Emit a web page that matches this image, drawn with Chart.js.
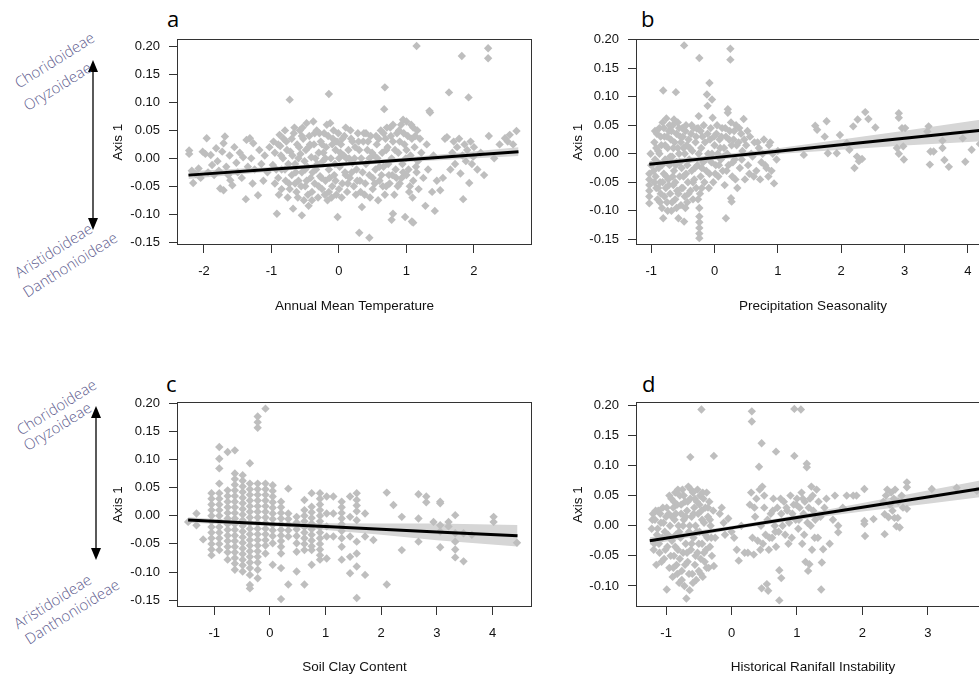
<!DOCTYPE html>
<html>
<head>
<meta charset="utf-8">
<script src="https://cdn.jsdelivr.net/npm/chart.js@4.4.1/dist/chart.umd.min.js"></script>
<style>
  html, body { margin: 0; padding: 0; background: #fff; overflow: hidden; }
  #page { position: relative; width: 979px; height: 679px; overflow: hidden; }
  canvas { position: absolute; }
  svg { position: absolute; left: 0; top: 0; }
  .letter { position: absolute; font: 22px "Open Sans", sans-serif; line-height: 22px; color: #000; }
  .note { position: absolute; white-space: nowrap; font: 300 15px "Open Sans", sans-serif; line-height: 15px;
          color: #5e5c8e; transform-origin: 0 0; transform: rotate(-32deg) translate(-100%, -13.3px); }
</style>
</head>
<body>
<div id="page">
  <svg width="979" height="679">
    <line x1="93" y1="70" x2="93" y2="220" stroke="#000" stroke-width="1.3"/>
    <polygon points="93,60 88,72 98,72" fill="#000"/>
    <polygon points="93,230 88,218 98,218" fill="#000"/>
    <line x1="96" y1="416" x2="96" y2="550" stroke="#000" stroke-width="1.3"/>
    <polygon points="96,406 91,418 101,418" fill="#000"/>
    <polygon points="96,560 91,548 101,548" fill="#000"/>
  </svg>

  <div class="note" style="left:96px;top:41px">Choridoideae</div>
  <div class="note" style="left:93px;top:71px">Oryzoideae</div>
  <div class="note" style="left:94px;top:232px">Aristidoideae</div>
  <div class="note" style="left:119px;top:241px">Danthonioideae</div>
  <div class="note" style="left:98px;top:388px">Choridoideae</div>
  <div class="note" style="left:93px;top:411px">Oryzoideae</div>
  <div class="note" style="left:93px;top:583px">Aristidoideae</div>
  <div class="note" style="left:121px;top:588px">Danthonioideae</div>

  <div class="letter" style="left:167px;top:7px">a</div>
  <div class="letter" style="left:641px;top:7px">b</div>
  <div class="letter" style="left:166px;top:372px">c</div>
  <div class="letter" style="left:642px;top:372px">d</div>

  <canvas id="chartA" width="440" height="330" style="left:100px;top:0px"></canvas>
  <canvas id="chartB" width="438" height="330" style="left:560px;top:0px"></canvas>
  <canvas id="chartC" width="440" height="339" style="left:100px;top:340px"></canvas>
  <canvas id="chartD" width="438" height="339" style="left:560px;top:340px"></canvas>
</div>

<script>
// tick labels
const axisTicks = [-0.15, -0.10, -0.05, 0.00, 0.05, 0.10, 0.15, 0.20];
const axisTicksD = [-0.10, -0.05, 0.00, 0.05, 0.10, 0.15, 0.20];
const tempTicks = [-2, -1, 0, 1, 2];
const precTicks = [-1, 0, 1, 2, 3, 4];
const clayTicks = [-1, 0, 1, 2, 3, 4];
const rainTicks = [-1, 0, 1, 2, 3];

// a: Annual Mean Temperature vs Axis 1
const tempPts = [
  [-2.22,0.014],[-2.22,0.008],[-2.16,-0.044],[-2.18,-0.022],[-2.12,-0.028],[-2.08,-0.018],[-2.05,-0.035],[-2.02,0.012],
  [-1.98,0.008],[-1.96,0.036],[-1.94,-0.025],[-1.9,0.006],[-1.88,-0.012],[-1.85,-0.03],[-1.82,0.018],[-1.8,-0.005],
  [-1.78,-0.022],[-1.76,-0.054],[-1.73,0.012],[-1.71,0.027],[-1.71,-0.057],[-1.69,0.039],[-1.67,-0.015],[-1.64,-0.03],
  [-1.62,0.005],[-1.61,-0.039],[-1.58,-0.048],[-1.55,0.02],[-1.52,-0.008],[-1.5,-0.025],[-1.47,0.01],[-1.44,-0.035],
  [-1.42,0.002],[-1.38,-0.073],[-1.37,0.033],[-1.35,-0.015],[-1.32,0.036],[-1.3,0.0],[-1.28,-0.045],[-1.27,0.027],
  [-1.25,-0.02],[-1.2,-0.066],[-1.18,0.015],[-1.15,-0.01],[-1.12,-0.04],[-1.1,0.005],[-1.06,-0.025],[-1.03,0.02],
  [-0.98,-0.012],[-0.95,0.01],[-0.92,-0.099],[-0.9,-0.035],[-0.88,0.042],[-0.87,0.022],[-0.85,-0.055],[-0.83,0.0],
  [-0.8,-0.02],[-0.78,0.03],[-0.76,-0.07],[-0.74,-0.045],[-0.73,0.105],[-0.72,0.012],[-0.7,-0.03],[-0.68,-0.09],
  [-0.67,0.045],[-0.65,-0.01],[-0.63,-0.06],[-0.62,0.025],[-0.6,-0.04],[-0.58,0.05],[-0.57,0.008],[-0.55,-0.102],
  [-0.55,-0.025],[-0.53,0.035],[-0.52,-0.075],[-0.5,-0.05],[-0.49,0.015],[-0.48,0.063],[-0.47,-0.015],[-0.45,-0.085],
  [-0.44,0.04],[-0.42,-0.035],[-0.41,0.002],[-0.4,-0.06],[-0.38,0.066],[-0.37,0.025],[-0.36,-0.045],[-0.34,-0.02],
  [-0.33,0.05],[-0.31,-0.07],[-0.3,0.01],[-0.28,-0.032],[-0.27,0.03],[-0.25,-0.055],[-0.24,-0.005],[-0.22,0.045],
  [-0.2,-0.04],[-0.19,0.02],[-0.18,0.06],[-0.17,-0.075],[-0.15,0.115],[-0.15,-0.02],[-0.13,0.063],[-0.12,0.0],
  [-0.1,-0.05],[-0.09,0.035],[-0.07,-0.03],[-0.05,0.015],[-0.04,-0.065],[-0.02,-0.105],[-0.01,0.045],[0.01,-0.015],
  [0.03,0.025],[0.05,-0.045],[0.07,0.005],[0.09,-0.025],[0.1,0.055],[0.12,-0.06],[0.14,0.015],[0.16,-0.035],
  [0.18,0.035],[0.2,-0.008],[0.22,-0.05],[0.24,0.02],[0.26,-0.02],[0.28,0.045],[0.3,-0.133],[0.31,-0.04],
  [0.33,0.0],[0.34,-0.087],[0.36,0.03],[0.38,-0.065],[0.4,-0.01],[0.42,0.015],[0.45,-0.142],[0.45,-0.03],
  [0.47,0.04],[0.5,-0.055],[0.52,0.005],[0.54,-0.02],[0.56,0.025],[0.58,-0.075],[0.6,-0.04],[0.62,0.05],
  [0.64,0.01],[0.66,-0.015],[0.67,0.088],[0.68,0.127],[0.69,0.035],[0.7,-0.05],[0.72,0.02],[0.74,-0.03],
  [0.76,0.055],[0.78,-0.11],[0.78,0.0],[0.8,-0.099],[0.8,0.03],[0.82,-0.065],[0.84,-0.02],[0.86,0.045],
  [0.88,0.01],[0.9,-0.045],[0.92,0.06],[0.94,-0.01],[0.95,0.069],[0.97,0.025],[0.98,-0.105],[1.0,0.066],
  [1.0,-0.03],[1.02,0.04],[1.04,-0.06],[1.06,0.005],[1.08,-0.113],[1.08,0.035],[1.1,-0.115],[1.1,-0.04],
  [1.12,0.02],[1.14,-0.015],[1.15,0.201],[1.16,0.05],[1.18,-0.055],
  [-0.95,-0.045],[-0.9,0.025],[-0.85,-0.02],[-0.8,0.05],[-0.75,-0.01],[-0.7,0.035],[-0.65,-0.045],[-0.6,0.0],
  [-0.55,0.04],[-0.5,-0.02],[-0.45,0.02],[-0.4,-0.075],[-0.35,0.0],[-0.3,-0.05],[-0.25,0.025],[-0.2,0.0],
  [-0.15,-0.06],[-0.1,0.025],[-0.05,-0.04],[0.0,0.0],[0.05,0.035],[0.1,-0.03],[0.15,0.0],[0.2,0.03],
  [0.25,-0.065],[0.3,0.015],[0.35,-0.025],[0.4,0.045],[0.45,0.0],[0.5,-0.035],[0.55,0.04],[0.6,-0.015],
  [0.65,-0.05],[0.7,0.015],[0.75,-0.045],[0.8,0.06],[0.85,-0.035],[0.9,0.03],[0.95,-0.025],[1.0,0.015],
  [1.05,-0.05],[1.1,0.055],[1.15,-0.025],[1.2,0.035],
  [-0.97,0.03],[-0.93,-0.02],[-0.89,-0.065],[-0.86,0.005],[-0.82,0.035],[-0.79,-0.04],[-0.77,0.015],[-0.73,-0.055],
  [-0.69,0.005],[-0.66,0.055],[-0.64,-0.025],[-0.61,-0.07],[-0.59,0.02],[-0.56,-0.05],[-0.54,0.055],[-0.51,-0.005],
  [-0.48,-0.04],[-0.46,-0.065],[-0.43,0.025],[-0.39,-0.025],[-0.36,0.045],[-0.32,-0.01],[-0.29,0.045],[-0.26,-0.035],
  [-0.23,0.01],[-0.21,-0.065],[-0.16,0.04],[-0.14,-0.035],[-0.11,-0.07],[-0.08,0.05],[-0.06,-0.01],[-0.03,0.03],
  [0.0,-0.055],[0.02,0.01],[0.04,-0.07],[0.08,0.04],[0.11,0.0],[0.13,-0.045],[0.17,0.05],[0.19,-0.025],
  [0.23,0.0],[0.27,-0.04],[0.29,0.03],[0.32,-0.06],[0.37,0.045],[0.39,-0.045],[0.43,0.03],[0.46,-0.07],
  [0.49,0.01],[0.53,-0.045],[0.57,0.0],[0.59,0.035],[0.63,-0.03],[0.66,0.045],[0.68,-0.065],[0.71,0.055],
  [0.73,-0.01],[0.77,0.04],[0.79,-0.03],[0.83,0.015],[0.87,-0.05],[0.89,0.05],[0.93,-0.035],[0.96,0.045],
  [0.99,0.0],[1.03,-0.02],[1.07,0.06],[1.09,-0.07],[1.13,0.04],[1.17,-0.005],
  [1.22,0.01],[1.25,-0.035],[1.28,-0.085],[1.3,0.025],[1.32,-0.02],[1.34,0.085],[1.35,0.082],[1.38,-0.06],
  [1.4,0.005],[1.42,-0.094],[1.45,-0.04],[1.5,-0.057],[1.54,-0.035],[1.57,0.035],[1.6,0.038],[1.63,0.118],
  [1.65,-0.02],[1.68,0.01],[1.7,0.03],[1.72,-0.01],[1.75,0.02],[1.78,0.035],[1.8,-0.027],[1.82,0.183],
  [1.83,0.005],[1.84,-0.073],[1.86,0.025],[1.88,-0.005],[1.9,0.015],[1.92,0.109],[1.93,-0.044],[1.95,0.03],
  [1.97,-0.01],[1.99,0.003],[2.0,0.02],[2.05,-0.02],[2.1,0.01],[2.15,-0.03],[2.21,0.197],[2.21,0.179],
  [2.22,0.04],[2.3,0.0],[2.38,0.025],[2.46,0.036],[2.5,0.03],[2.53,0.042],[2.58,0.025],[2.63,0.049]
];
const tempFitX = [-2.23, -1, 0, 1, 2.66];
const tempFitY = [-0.030, -0.0195, -0.011, -0.0025, 0.012];
const tempFitLo = [-0.037, -0.0235, -0.014, -0.0065, 0.004];
const tempFitHi = [-0.023, -0.0155, -0.008, 0.0015, 0.020];

// b: Precipitation Seasonality vs Axis 1
const precPts = [
  [-1.03,-0.035],[-1.03,-0.045],[-1.03,-0.055],[-1.03,-0.065],[-1.03,-0.075],[-1.03,-0.087],[-1.01,0.0],[-1.0,-0.02],
  [-0.95,0.02],[-0.94,-0.01],[-0.93,-0.04],[-0.92,-0.06],[-0.91,0.035],[-0.9,-0.08],[-0.89,0.005],[-0.88,-0.025],
  [-0.87,0.045],[-0.86,-0.05],[-0.85,-0.07],[-0.84,0.015],[-0.83,-0.095],[-0.82,0.055],[-0.81,0.111],[-0.81,-0.113],
  [-0.8,-0.035],[-0.79,0.03],[-0.78,-0.01],[-0.77,-0.06],[-0.76,0.062],[-0.75,-0.085],[-0.74,0.01],[-0.73,-0.045],
  [-0.72,0.04],[-0.71,-0.02],[-0.7,-0.07],[-0.69,0.025],[-0.68,-0.1],[-0.67,-0.005],[-0.66,0.05],[-0.65,-0.055],
  [-0.64,-0.03],[-0.63,0.02],[-0.62,-0.08],[-0.61,0.108],[-0.6,0.035],[-0.6,-0.015],[-0.59,-0.065],[-0.58,0.055],
  [-0.57,-0.113],[-0.56,0.0],[-0.55,-0.04],[-0.54,0.03],[-0.53,-0.09],[-0.52,-0.025],[-0.51,0.045],[-0.5,-0.06],
  [-0.49,0.01],[-0.48,0.19],[-0.48,-0.119],[-0.47,-0.075],[-0.46,0.04],[-0.45,-0.035],[-0.44,0.015],[-0.43,-0.085],
  [-0.42,-0.05],[-0.41,0.025],[-0.4,-0.01],[-0.38,-0.065],[-0.37,0.035],[-0.36,-0.03],[-0.35,0.005],[-0.34,-0.08],
  [-0.33,0.045],[-0.32,-0.045],[-0.3,0.02],[-0.29,-0.06],[-0.28,0.044],[-0.27,-0.02],[-0.26,0.045],[-0.25,0.066],
  [-0.24,0.168],[-0.24,-0.095],[-0.24,-0.11],[-0.24,-0.12],[-0.24,-0.13],[-0.24,-0.14],[-0.24,-0.148],[-0.23,-0.07],
  [-0.22,-0.04],[-0.21,0.01],[-0.2,-0.06],[-0.19,0.03],[-0.18,-0.015],[-0.16,-0.05],[-0.15,0.02],[-0.13,-0.03],
  [-0.12,0.104],[-0.11,0.084],[-0.1,0.0],[-0.08,0.124],[-0.08,-0.035],[-0.07,0.025],[-0.05,-0.015],[-0.04,0.095],
  [-0.03,0.063],[-0.02,-0.05],[0.0,0.015],[0.02,-0.02],[0.03,0.035],[0.05,0.0],[0.06,-0.04],[0.08,0.025],
  [0.1,-0.01],[0.12,0.045],[0.13,-0.03],[0.15,0.01],[0.16,-0.055],[0.18,-0.113],[0.18,0.03],[0.2,0.0],
  [0.21,0.078],[0.21,0.072],[0.22,-0.02],[0.24,0.04],[0.25,0.184],[0.25,0.165],[0.26,-0.078],[0.27,-0.084],
  [0.27,0.015],[0.28,-0.04],[0.3,0.025],[0.32,-0.01],[0.34,0.05],[0.36,-0.06],[0.38,0.02],[0.4,-0.025],
  [0.42,0.035],[0.44,0.005],[0.46,0.061],[0.48,-0.045],[0.5,0.015],[0.53,-0.02],[0.56,0.03],[0.6,-0.005],
  [0.63,0.02],[0.66,-0.03],[0.7,0.01],[0.74,-0.015],[0.78,0.025],[0.82,-0.025],[0.86,0.015],[0.9,-0.03],
  [0.94,-0.052],[0.98,-0.01],[1.0,0.005],
  [-0.96,-0.03],[-0.95,-0.05],[-0.94,0.04],[-0.92,0.01],[-0.9,-0.015],[-0.89,-0.06],[-0.87,0.0],[-0.86,-0.085],
  [-0.85,0.03],[-0.83,-0.02],[-0.82,-0.05],[-0.8,0.045],[-0.79,-0.075],[-0.78,0.015],[-0.76,-0.04],[-0.75,0.03],
  [-0.74,-0.1],[-0.72,-0.055],[-0.71,0.05],[-0.7,-0.005],[-0.68,0.04],[-0.67,-0.085],[-0.66,-0.04],[-0.65,0.01],
  [-0.64,0.06],[-0.62,-0.05],[-0.61,-0.02],[-0.6,-0.095],[-0.58,0.01],[-0.57,-0.07],[-0.56,0.045],[-0.55,-0.015],
  [-0.53,0.02],[-0.52,-0.06],[-0.5,0.03],[-0.49,-0.04],[-0.47,0.0],[-0.46,-0.095],[-0.45,0.05],[-0.43,-0.02],
  [-0.41,-0.07],[-0.39,0.01],[-0.36,0.05],[-0.34,-0.05],[-0.31,-0.025],[-0.29,0.03],[-0.26,-0.08],[-0.25,0.0],
  [-0.22,0.04],[-0.2,-0.025],[-0.17,0.05],[-0.14,-0.01],[-0.11,0.035],[-0.09,-0.06],[-0.06,0.045],[-0.04,0.0],
  [-0.01,0.03],[0.01,-0.035],[0.04,0.05],[0.07,-0.02],[0.09,0.01],[0.11,0.03],[0.14,-0.005],[0.17,0.045],
  [0.19,-0.03],[0.23,0.025],[0.26,0.055],[0.29,-0.015],[0.31,0.04],[0.33,-0.045],[0.35,0.015],[0.39,0.045],
  [0.43,-0.01],[0.47,0.025],[0.52,0.04],[0.55,-0.035],[0.58,0.0],[0.62,-0.04],[0.68,0.02],[0.72,-0.045],
  [0.76,0.0],[0.8,-0.02],[0.85,-0.04],[0.88,0.02],[0.92,0.0],
  [1.41,-0.002],[1.59,0.049],[1.62,0.042],[1.74,0.03],[1.77,0.057],[1.79,0.001],[1.93,0.001],[1.98,0.033],
  [2.09,0.019],[2.13,0.007],[2.19,0.048],[2.21,-0.025],[2.25,-0.005],[2.26,0.06],[2.28,-0.013],[2.33,-0.009],
  [2.38,0.073],[2.43,0.061],[2.54,0.046],[2.88,0.01],[2.91,0.071],[2.91,0.063],[2.91,0.0],[2.96,0.045],
  [2.98,0.013],[2.99,-0.01],[3.01,0.045],[3.36,0.039],[3.38,0.048],[3.4,-0.019],[3.41,0.004],[3.46,0.004],
  [3.6,0.023],[3.6,0.01],[3.63,-0.011],[3.7,-0.023],[3.92,0.027],[3.96,-0.014],[4.06,0.007],[4.19,0.017]
];
const precFitX = [-1.03, 0, 1, 2, 3, 4.22];
const precFitY = [-0.0185, -0.0068, 0.0045, 0.0159, 0.0273, 0.0411];
const precFitLo = [-0.0245, -0.0108, -0.0005, 0.0069, 0.0143, 0.0221];
const precFitHi = [-0.0125, -0.0028, 0.0095, 0.0249, 0.0403, 0.0601];

// c: Soil Clay Content vs Axis 1 (values come in columns of equal x)
const clayX = [-1.47, -1.32, -1.2, -1.05, -0.91, -0.76, -0.63, -0.49, -0.36, -0.22, -0.08, 0.05, 0.2, 0.33, 0.48,
  0.62, 0.75, 0.9, 1.02, 1.14, 1.29, 1.44, 1.56, 1.71, 1.86, 2.1, 2.22, 2.37, 2.67, 2.81, 2.94, 3.06, 3.21, 3.33,
  3.48, 3.63, 4.02, 4.44];
const clayY = [
  [-0.011],
  [0.004, -0.017],
  [-0.042],
  [0.04, 0.03, 0.02, 0.01, 0, -0.01, -0.02, -0.03, -0.04, -0.05, -0.06, -0.07],
  [0.122, 0.101, 0.084, 0.057, 0.04, 0.03, 0.02, 0.01, 0, -0.01, -0.02, -0.03, -0.04, -0.05, -0.061],
  [0.113, 0.045, 0.035, 0.025, 0.015, 0.005, -0.005, -0.015, -0.025, -0.035, -0.045, -0.055, -0.065, -0.078],
  [0.116, 0.075, 0.065, 0.055, 0.045, 0.035, 0.025, 0.015, 0.005, -0.005, -0.015, -0.025, -0.035, -0.045, -0.055,
   -0.065, -0.075, -0.085, -0.096],
  [0.072, 0.062, 0.052, 0.042, 0.032, 0.022, 0.012, 0.002, -0.008, -0.018, -0.028, -0.038, -0.048, -0.058, -0.068,
   -0.078, -0.088, -0.099],
  [0.093, 0.057, 0.047, 0.037, 0.027, 0.017, 0.007, -0.003, -0.013, -0.023, -0.033, -0.043, -0.053, -0.063, -0.073,
   -0.083, -0.093, -0.105, -0.123, -0.129],
  [0.176, 0.166, 0.156, 0.057, 0.047, 0.037, 0.027, 0.017, 0.007, -0.003, -0.013, -0.023, -0.033, -0.043, -0.053,
   -0.063, -0.073, -0.083, -0.096, -0.111],
  [0.19, 0.057, 0.047, 0.037, 0.027, 0.017, 0.007, -0.003, -0.013, -0.023, -0.033, -0.043, -0.053, -0.067],
  [0.054, 0.044, 0.034, 0.024, 0.014, 0.004, -0.006, -0.016, -0.026, -0.036, -0.049, -0.087],
  [0.025, 0.015, 0.005, -0.005, -0.015, -0.025, -0.035, -0.045, -0.055, -0.067, -0.093, -0.148],
  [0.048, 0.004, -0.006, -0.016, -0.026, -0.037, -0.122],
  [-0.002, -0.012, -0.024, -0.036, -0.049, -0.064, -0.099],
  [0.028, 0.01, 0.0, -0.01, -0.02, -0.03, -0.04, -0.05, -0.061, -0.122],
  [0.04, 0.016, 0.006, -0.004, -0.014, -0.024, -0.034, -0.044, -0.054, -0.061, -0.087],
  [0.04, 0.03, 0.02, 0.01, 0.0, -0.01, -0.02, -0.03, -0.04, -0.05, -0.06, -0.07, -0.078],
  [0.034, 0.004, -0.019, -0.037, -0.076],
  [0.034, 0.004, -0.037],
  [0.025, 0.015, 0.005, -0.005, -0.015, -0.027, -0.04, -0.055, -0.078],
  [0.034, -0.002, -0.037, -0.073, -0.102],
  [0.04, 0.028, 0.018, 0.008, -0.008, -0.046, -0.067, -0.09, -0.146],
  [0.004, -0.037, -0.105],
  [-0.043],
  [0.041, -0.122],
  [0.019],
  [-0.002, -0.061],
  [0.038, -0.005, -0.046],
  [0.034, 0.024],
  [-0.011],
  [0.025, 0.022, -0.017, -0.028, -0.056],
  [-0.011, -0.019],
  [0.001, -0.031, -0.046, -0.06, -0.074],
  [-0.031, -0.081],
  [-0.034],
  [-0.002, -0.011],
  [-0.048]
];
const clayFitX = [-1.47, 0, 1, 2, 3, 4.45];
const clayFitY = [-0.0077, -0.0146, -0.0193, -0.024, -0.0287, -0.0355];
const clayFitLo = [-0.0127, -0.0176, -0.0253, -0.034, -0.0437, -0.0545];
const clayFitHi = [-0.0027, -0.0116, -0.0133, -0.014, -0.0137, -0.0165];

// d: Historical Rainfall Instability vs Axis 1
const rainPts = [
  [-1.22,-0.005],[-1.2,0.02],[-1.18,-0.03],[-1.17,0.01],[-1.15,-0.065],[-1.14,-0.015],[-1.12,0.025],[-1.1,-0.045],
  [-1.08,0.005],[-1.06,-0.02],[-1.05,0.03],[-1.03,-0.055],[-1.02,-0.01],[-1.0,0.015],[-0.99,-0.106],[-0.98,-0.035],
  [-0.96,0.02],[-0.95,-0.07],[-0.94,0.0],[-0.92,0.045],[-0.91,-0.025],[-0.9,-0.085],[-0.89,0.03],[-0.88,-0.05],
  [-0.87,0.01],[-0.86,0.055],[-0.85,-0.015],[-0.84,-0.065],[-0.83,0.035],[-0.82,-0.04],[-0.81,0.0],[-0.8,-0.095],
  [-0.79,0.05],[-0.78,-0.02],[-0.77,0.02],[-0.76,-0.075],[-0.75,0.06],[-0.74,-0.045],[-0.73,0.01],[-0.72,-0.1],
  [-0.71,0.04],[-0.7,-0.03],[-0.69,-0.121],[-0.68,0.025],[-0.67,-0.06],[-0.66,0.065],[-0.65,-0.01],[-0.64,-0.107],
  [-0.63,0.114],[-0.63,0.045],[-0.62,-0.04],[-0.61,0.015],[-0.6,-0.08],[-0.59,0.055],[-0.58,-0.02],[-0.57,0.03],
  [-0.56,-0.065],[-0.55,0.0],[-0.54,-0.09],[-0.53,0.04],[-0.52,-0.045],[-0.51,0.02],[-0.5,-0.075],[-0.49,-0.01],
  [-0.48,0.05],[-0.47,-0.055],[-0.46,0.193],[-0.46,0.025],[-0.45,-0.03],[-0.44,-0.085],[-0.43,0.045],[-0.42,0.005],
  [-0.41,-0.06],[-0.4,0.03],[-0.39,-0.04],[-0.38,0.055],[-0.37,-0.02],[-0.36,0.015],[-0.35,-0.07],[-0.34,0.04],
  [-0.33,-0.035],[-0.32,0.0],[-0.3,-0.05],[-0.28,0.025],[-0.27,0.116],[-0.27,-0.067],[-0.25,-0.02],
  [-1.21,0.01],[-1.19,-0.04],[-1.16,0.025],[-1.13,-0.005],[-1.11,-0.03],[-1.09,0.02],[-1.07,-0.06],[-1.04,0.005],
  [-1.01,-0.04],[-0.99,0.03],[-0.97,-0.015],[-0.95,0.05],[-0.93,-0.05],[-0.91,0.015],[-0.89,-0.07],[-0.88,0.04],
  [-0.86,-0.035],[-0.85,0.02],[-0.83,-0.08],[-0.82,0.06],[-0.8,-0.01],[-0.79,-0.055],[-0.77,0.035],[-0.76,-0.09],
  [-0.74,0.0],[-0.73,0.05],[-0.71,-0.065],[-0.7,0.015],[-0.68,-0.045],[-0.67,0.04],[-0.65,-0.08],[-0.64,0.0],
  [-0.62,0.06],[-0.61,-0.03],[-0.59,-0.095],[-0.58,0.02],[-0.56,0.045],[-0.55,-0.05],[-0.53,-0.01],[-0.52,0.06],
  [-0.5,-0.03],[-0.49,0.035],[-0.47,-0.08],[-0.45,0.01],[-0.44,0.055],[-0.42,-0.045],[-0.4,-0.015],[-0.38,-0.07],
  [-0.36,0.03],[-0.33,0.01],[-0.31,-0.02],
  [-0.18,0.02],[-0.15,0.03],[-0.12,0.005],[-0.1,-0.015],[-0.05,0.012],[0.0,-0.01],[0.04,-0.02],[0.08,-0.04],
  [0.11,-0.058],[0.15,0.0],[0.2,-0.045],[0.25,-0.045],[0.28,0.035],[0.3,0.055],[0.31,0.19],[0.31,0.173],
  [0.32,-0.02],[0.34,-0.048],[0.36,0.015],[0.38,0.045],[0.4,-0.025],[0.42,0.098],[0.43,0.06],[0.45,0.0],
  [0.46,0.137],[0.46,-0.104],[0.47,0.065],[0.48,-0.03],[0.5,0.03],[0.52,-0.015],[0.54,-0.097],[0.55,0.01],
  [0.56,-0.108],[0.57,-0.04],[0.6,0.02],[0.62,-0.02],[0.64,0.045],[0.66,0.0],[0.68,0.123],[0.68,-0.035],
  [0.7,0.03],[0.72,-0.01],[0.73,-0.074],[0.73,-0.124],[0.76,-0.087],[0.76,0.02],[0.8,0.04],[0.82,-0.015],
  [0.85,0.025],[0.88,0.005],[0.9,0.05],[0.92,-0.02],[0.95,0.035],[0.96,0.194],[0.96,0.116],[0.98,0.01],
  [1.0,0.045],[1.02,-0.005],[1.04,0.03],[1.06,0.193],[1.07,0.055],[1.08,-0.03],[1.1,0.02],[1.12,0.04],
  [1.13,-0.06],[1.15,0.103],[1.15,0.097],[1.16,0.005],[1.17,-0.075],[1.19,-0.064],[1.2,0.045],[1.22,0.065],
  [1.23,-0.04],[1.25,0.025],[1.28,0.01],[1.3,0.06],[1.32,-0.02],[1.37,-0.106],[1.38,-0.061],[1.4,-0.039],
  [1.42,0.03],[1.45,0.045],[1.5,-0.03],[1.55,0.01],[1.58,0.05],
  [0.35,0.03],[0.44,-0.04],[0.5,0.05],[0.58,-0.02],[0.63,0.025],[0.67,-0.01],[0.75,0.045],[0.78,0.0],
  [0.84,0.03],[0.87,-0.03],[0.93,0.02],[0.99,0.035],[1.03,0.01],[1.09,0.045],[1.11,-0.015],[1.18,0.03],
  [1.21,0.0],[1.24,0.05],[1.27,-0.02],[1.33,0.04],[1.36,0.015],
  [1.63,0.0],[1.63,-0.011],[1.7,0.03],[1.76,0.05],[1.86,0.05],[1.91,0.05],[2.03,0.061],[2.03,0.008],
  [2.03,0.003],[2.04,-0.017],[2.17,0.011],[2.32,0.04],[2.34,0.019],[2.34,-0.014],[2.36,0.05],[2.38,0.06],
  [2.4,0.014],[2.42,0.035],[2.44,0.055],[2.46,0.025],[2.48,0.045],[2.49,0.013],[2.5,0.06],[2.52,-0.001],
  [2.54,0.013],[2.55,0.04],[2.57,-0.003],[2.6,0.05],[2.62,0.03],[2.68,0.072],[2.68,0.064],[2.68,0.028],
  [3.06,0.061],[3.44,0.063],[3.75,0.058]
];
const rainFitX = [-1.25, 0, 1, 2, 3, 3.82];
const rainFitY = [-0.025, -0.0036, 0.0135, 0.0306, 0.0477, 0.0617];
const rainFitLo = [-0.031, -0.0066, 0.0095, 0.0236, 0.0367, 0.0477];
const rainFitHi = [-0.019, -0.0006, 0.0175, 0.0376, 0.0587, 0.0757];

const textColor = "#111";
const axisColor = "#333";
const pointColor = "#bebebe";
const bandColor = "#d6d6d6";

Chart.defaults.font.family = "'Liberation Sans', Arial, sans-serif";

// box round the plot area, like R's default frame
const framePlugin = {
  id: "frame",
  afterDatasetsDraw(chart) {
    const a = chart.chartArea;
    const ctx = chart.ctx;
    ctx.save();
    ctx.strokeStyle = axisColor;
    ctx.lineWidth = 1;
    ctx.strokeRect(a.left + 0.5, a.top + 0.5, a.right - a.left - 1, a.bottom - a.top - 1);
    ctx.restore();
  }
};

function makePanel(id, o) {
  const pts = o.pts.map(p => ({ x: p[0], y: p[1] }));
  const curve = ys => o.fitX.map((x, i) => ({ x: x, y: ys[i] }));
  const none = "rgba(0,0,0,0)";
  new Chart(document.getElementById(id), {
    type: "scatter",
    data: {
      datasets: [
        { type: "line", data: curve(o.lo), borderColor: none, pointRadius: 0, fill: false, order: 4 },
        { type: "line", data: curve(o.hi), borderColor: none, pointRadius: 0, fill: "-1",
          backgroundColor: bandColor, order: 3 },
        { data: pts, pointStyle: "rectRot", pointRadius: 4.2, backgroundColor: pointColor,
          borderWidth: 0, order: 2 },
        { type: "line", data: curve(o.fit), borderColor: "#000", borderWidth: 3, pointRadius: 0,
          fill: false, order: 1 }
      ]
    },
    options: {
      responsive: false,
      animation: false,
      events: [],
      layout: { padding: o.pad },
      plugins: { legend: { display: false }, tooltip: { enabled: false } },
      scales: {
        x: {
          type: "linear", min: o.xMin, max: o.xMax,
          afterBuildTicks: s => { s.ticks = o.xTicks.map(v => ({ value: v })); },
          afterFit: s => { s.height = o.xAxisH; },
          grid: { drawOnChartArea: false, tickLength: 8, color: axisColor },
          border: { display: false },
          ticks: { font: { size: 13 }, color: textColor, padding: 11, maxRotation: 0,
                   callback: v => String(v) },
          title: { display: true, text: o.xTitle, font: { size: 13.5 }, color: textColor,
                   padding: { top: 0, bottom: o.titlePad } }
        },
        y: {
          type: "linear", min: o.yMin, max: o.yMax,
          afterBuildTicks: s => { s.ticks = o.yTicks.map(v => ({ value: v })); },
          afterFit: s => { s.width = o.yAxisW; },
          grid: { drawOnChartArea: false, tickLength: 8, color: axisColor },
          border: { display: false },
          ticks: { font: { size: 13 }, color: textColor, padding: 9, callback: v => v.toFixed(2) },
          title: { display: true, text: "Axis 1", font: { size: 13.5 }, color: textColor,
                   padding: { top: 10, bottom: 0 } }
        }
      }
    },
    plugins: [framePlugin]
  });
}

// flatten the clay columns into points
const clayPts = [];
clayX.forEach((x, i) => clayY[i].forEach(y => clayPts.push([x, y])));

makePanel("chartA", {
  pts: tempPts, fitX: tempFitX, fit: tempFitY, lo: tempFitLo, hi: tempFitHi,
  xTicks: tempTicks, yTicks: axisTicks, xMin: -2.40, xMax: 2.86, yMin: -0.155, yMax: 0.2135,
  xTitle: "Annual Mean Temperature", pad: { top: 39, right: 8, left: 0, bottom: 0 },
  yAxisW: 77, xAxisH: 85, titlePad: 16
});
makePanel("chartB", {
  pts: precPts, fitX: precFitX, fit: precFitY, lo: precFitLo, hi: precFitHi,
  xTicks: precTicks, yTicks: axisTicks, xMin: -1.24, xMax: 4.35, yMin: -0.160, yMax: 0.2012,
  xTitle: "Precipitation Seasonality", pad: { top: 39, right: 8, left: 0, bottom: 0 },
  yAxisW: 76, xAxisH: 85, titlePad: 16
});
makePanel("chartC", {
  pts: clayPts, fitX: clayFitX, fit: clayFitY, lo: clayFitLo, hi: clayFitHi,
  xTicks: clayTicks, yTicks: axisTicks, xMin: -1.67, xMax: 4.71, yMin: -0.162, yMax: 0.2018,
  xTitle: "Soil Clay Content", pad: { top: 62, right: 8, left: 0, bottom: 0 },
  yAxisW: 77, xAxisH: 72, titlePad: 3.5
});
makePanel("chartD", {
  pts: rainPts, fitX: rainFitX, fit: rainFitY, lo: rainFitLo, hi: rainFitHi,
  xTicks: rainTicks, yTicks: axisTicksD, xMin: -1.46, xMax: 3.95, yMin: -0.135, yMax: 0.2055,
  xTitle: "Historical Ranifall Instability", pad: { top: 62, right: 8, left: 0, bottom: 0 },
  yAxisW: 76, xAxisH: 72, titlePad: 3.5
});
</script>
</body>
</html>
